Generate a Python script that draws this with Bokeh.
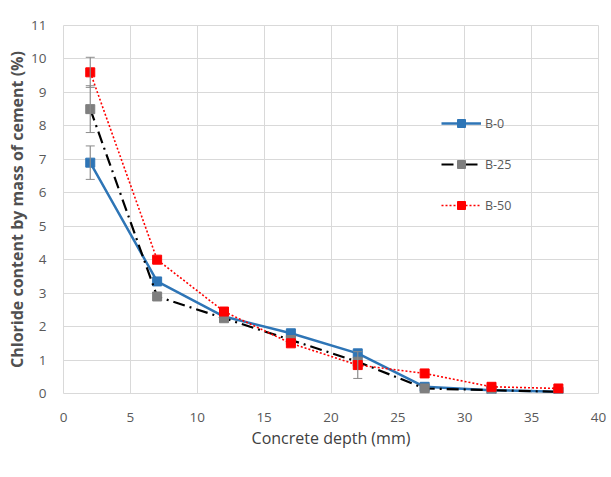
from bokeh.plotting import figure
from bokeh.models import (ColumnDataSource, Whisker, Legend, LegendItem, Range1d,
                          FixedTicker, Title)
from bokeh.embed import file_html
from bokeh.resources import INLINE

# Chloride profiles at increasing concrete depth
depth = [2, 7, 12, 17, 22, 27, 32, 37]
b0 = [6.9, 3.35, 2.3, 1.8, 1.2, 0.2, 0.1, 0.05]
b25 = [8.5, 2.9, 2.25, 1.6, 0.95, 0.15, 0.1, 0.05]
b50 = [9.6, 4.0, 2.45, 1.5, 0.85, 0.6, 0.2, 0.15]

# Error bars (lower, upper) for the points that show them
err_x = [2, 2, 2, 22]
err_lo = [6.4, 7.8, 9.15, 0.45]
err_hi = [7.4, 9.2, 10.05, 1.25]

x_ticks = [0, 5, 10, 15, 20, 25, 30, 35, 40]
y_ticks = list(range(0, 12))

FONT = "Open Sans"
TXT = "#595959"
GRID = "#d9d9d9"

p = figure(width=611, height=477, output_backend="svg", toolbar_location=None,
           x_range=Range1d(0, 40), y_range=Range1d(0, 11),
           min_border_left=63, min_border_right=13, min_border_top=25, min_border_bottom=84)

p.outline_line_color = GRID
p.background_fill_color = "white"
p.border_fill_color = "white"

for ax in (p.xaxis[0], p.yaxis[0]):
    ax.axis_line_color = None
    ax.major_tick_line_color = None
    ax.minor_tick_line_color = None
    ax.major_label_text_font = FONT
    ax.major_label_text_font_size = "13.5px"
    ax.major_label_text_color = TXT

p.xaxis.ticker = FixedTicker(ticks=x_ticks)
p.yaxis.ticker = FixedTicker(ticks=y_ticks)
p.xaxis.major_label_standoff = 13
p.yaxis.major_label_standoff = 11
p.yaxis.axis_label = "Chloride content by mass of cement (%)"
p.yaxis.axis_label_text_font = FONT
p.yaxis.axis_label_text_color = "#505050"
p.yaxis.axis_label_text_font_style = "bold"
p.yaxis.axis_label_text_font_size = "16px"
p.yaxis.axis_label_standoff = 0

# x-axis title, nudged right of the frame centre
xt = Title(text="Concrete depth (mm)", align="center", offset=21,
           text_font=FONT, text_font_size="16px", text_font_style="normal",
           text_color="#404040", standoff=0)
p.add_layout(xt, "below")

p.xgrid.ticker = FixedTicker(ticks=x_ticks)
p.ygrid.ticker = FixedTicker(ticks=y_ticks)
p.xgrid.grid_line_color = GRID
p.ygrid.grid_line_color = GRID

# Error bars
err_src = ColumnDataSource(dict(x=err_x, lower=err_lo, upper=err_hi))
wh = Whisker(source=err_src, base="x", lower="lower", upper="upper",
             line_color="#8c8c8c", line_width=1.2, level="glyph")
wh.upper_head.line_color = "#8c8c8c"
wh.lower_head.line_color = "#8c8c8c"
wh.upper_head.size = 9
wh.lower_head.size = 9
p.add_layout(wh)

src = ColumnDataSource(dict(x=depth, b0=b0, b25=b25, b50=b50))

l0 = p.line("x", "b0", source=src, line_color="#2E75B6", line_width=2.5)
m0 = p.scatter("x", "b0", source=src, marker="square", size=9,
               fill_color="#2E75B6", line_color="#2E75B6")
l25 = p.line("x", "b25", source=src, line_color="black", line_width=2.2,
             line_dash="12 5 2 5")
m25 = p.scatter("x", "b25", source=src, marker="square", size=9,
                fill_color="#7f7f7f", line_color="#7f7f7f")
l50 = p.line("x", "b50", source=src, line_color="#FF0000", line_width=1.6,
             line_dash="2 2")
m50 = p.scatter("x", "b50", source=src, marker="square", size=9,
                fill_color="#FF0000", line_color="#FF0000")

legend = Legend(items=[
    LegendItem(label="B-0", renderers=[l0, m0]),
    LegendItem(label="B-25", renderers=[l25, m25]),
    LegendItem(label="B-50", renderers=[l50, m50]),
], location=(378, 178))
legend.background_fill_alpha = 0
legend.border_line_color = None
legend.padding = 0
legend.margin = 0
legend.glyph_width = 40
legend.glyph_height = 20
legend.spacing = 21
legend.label_height = 20
legend.label_standoff = 4
legend.label_text_font = FONT
legend.label_text_font_size = "12.5px"
legend.label_text_color = TXT
p.add_layout(legend)

open("out.html", "w").write(file_html(p, INLINE))
